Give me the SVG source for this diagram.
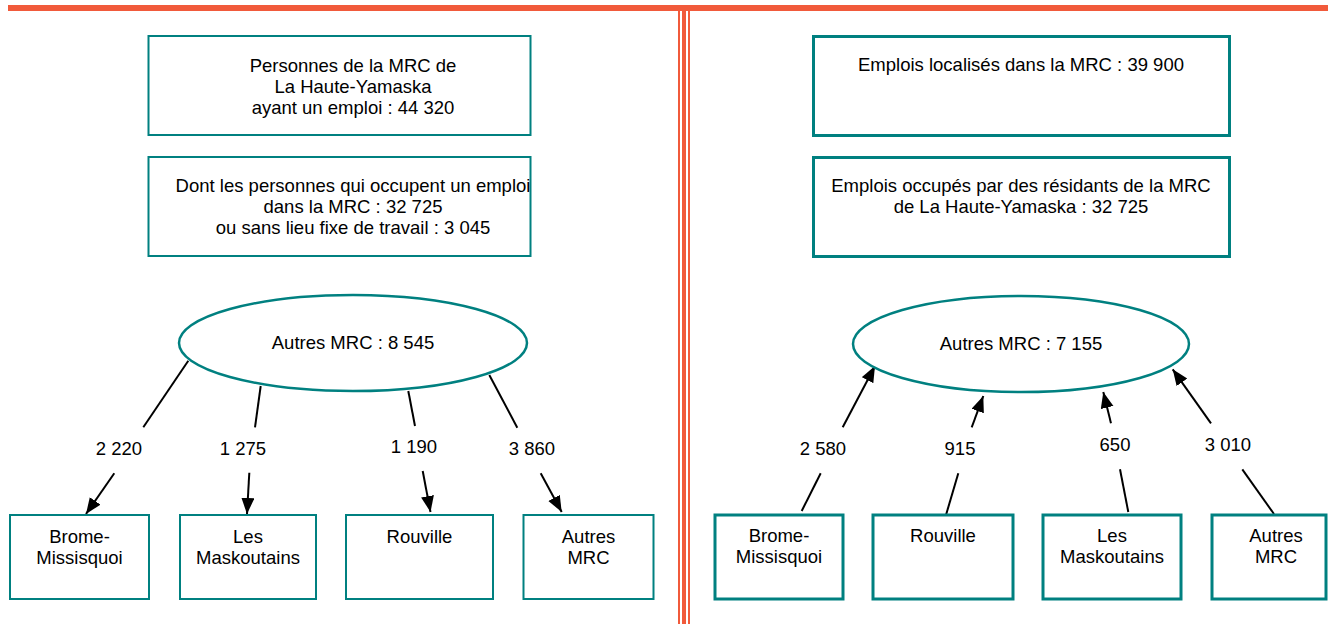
<svg xmlns="http://www.w3.org/2000/svg" width="1328" height="624" viewBox="0 0 1328 624">
<style>
text{font-family:"Liberation Sans",Arial,sans-serif;font-size:18.5px;fill:#000;text-anchor:middle}
.bx{fill:#fff;stroke:#008080;stroke-width:2}
.bx3{fill:#fff;stroke:#008080;stroke-width:3}
.el{fill:#fff;stroke:#008080;stroke-width:2.5}
.ln{stroke:#000;stroke-width:2;fill:none}
.ar{stroke:#000;stroke-width:2;fill:none;marker-end:url(#ah)}
.red{fill:#F15A3B}
</style>
<defs>
<marker id="ah" markerUnits="userSpaceOnUse" markerWidth="17" markerHeight="14" refX="16" refY="6.5" orient="auto">
<path d="M0,0 L16,6.5 L0,13 z" fill="#000"/>
</marker>
</defs>
<g id="frame">
<rect class="red" x="8" y="5" width="1320" height="6"/>
<rect class="red" x="678" y="9" width="2" height="615"/>
<rect class="red" x="682" y="9" width="4" height="615"/>
<rect class="red" x="688" y="9" width="2" height="615"/>
</g>
<g id="connectors">
<line class="ln" x1="188.3" y1="360.7" x2="143.3" y2="427.3"/>
<line class="ln" x1="260.7" y1="386" x2="255" y2="427.3"/>
<line class="ln" x1="408.3" y1="391" x2="415" y2="426"/>
<line class="ln" x1="489.3" y1="375" x2="517.3" y2="427.7"/>
<line class="ar" x1="114.3" y1="473.3" x2="86" y2="514"/>
<line class="ar" x1="249.3" y1="472.7" x2="247" y2="514"/>
<line class="ar" x1="422.7" y1="471" x2="430.5" y2="512"/>
<line class="ar" x1="540.7" y1="473.3" x2="561.7" y2="512"/>
<line class="ar" x1="842.7" y1="427.3" x2="875" y2="366"/>
<line class="ar" x1="971.7" y1="427.3" x2="983.3" y2="396"/>
<line class="ar" x1="1111" y1="423.3" x2="1103.3" y2="392"/>
<line class="ar" x1="1211" y1="423.3" x2="1172.7" y2="369.3"/>
<line class="ln" x1="820.7" y1="473.3" x2="801.7" y2="511"/>
<line class="ln" x1="958.3" y1="473.3" x2="946" y2="515"/>
<line class="ln" x1="1120" y1="469.3" x2="1128.3" y2="512"/>
<line class="ln" x1="1242.3" y1="469.3" x2="1274" y2="514"/>
<text x="119" y="455">2 220</text>
<text x="243" y="455">1 275</text>
<text x="414" y="453">1 190</text>
<text x="532" y="455">3 860</text>
<text x="823" y="455">2 580</text>
<text x="960" y="455">915</text>
<text x="1115" y="451">650</text>
<text x="1228" y="451">3 010</text>
</g>
<g id="l-personnes">
<rect class="bx" x="148.5" y="36" width="382" height="99"/>
<text x="353" y="72">Personnes de la MRC de</text>
<text x="353" y="93">La Haute-Yamaska</text>
<text x="353" y="114">ayant un emploi : 44 320</text>
</g>
<g id="l-dont">
<rect class="bx" x="148.5" y="157" width="382" height="99"/>
<text x="353" y="192">Dont les personnes qui occupent un emploi</text>
<text x="353" y="213">dans la MRC : 32 725</text>
<text x="353" y="234">ou sans lieu fixe de travail : 3 045</text>
</g>
<g id="l-autres-mrc">
<ellipse class="el" cx="353" cy="343" rx="174" ry="48"/>
<text x="353" y="349">Autres MRC : 8 545</text>
</g>
<g id="l-brome">
<rect class="bx" x="10" y="515" width="139" height="84"/>
<text x="79.5" y="543">Brome-</text>
<text x="79.5" y="564">Missisquoi</text>
</g>
<g id="l-maskoutains">
<rect class="bx" x="180" y="515" width="136" height="84"/>
<text x="248" y="543">Les</text>
<text x="248" y="564">Maskoutains</text>
</g>
<g id="l-rouville">
<rect class="bx" x="346" y="515" width="147" height="84"/>
<text x="419.5" y="543">Rouville</text>
</g>
<g id="l-autres">
<rect class="bx" x="523.5" y="515" width="130" height="84"/>
<text x="588.5" y="543">Autres</text>
<text x="588.5" y="564">MRC</text>
</g>
<g id="r-localises">
<rect class="bx3" x="813.5" y="36.5" width="416" height="99"/>
<text x="1021" y="71">Emplois localisés dans la MRC : 39 900</text>
</g>
<g id="r-occupes">
<rect class="bx3" x="813.5" y="157.5" width="416" height="99"/>
<text x="1021" y="192">Emplois occupés par des résidants de la MRC</text>
<text x="1021" y="213">de La Haute-Yamaska : 32 725</text>
</g>
<g id="r-autres-mrc">
<ellipse class="el" cx="1021" cy="344" rx="168" ry="48"/>
<text x="1021" y="350">Autres MRC : 7 155</text>
</g>
<g id="r-brome">
<rect class="bx3" x="715" y="515" width="128" height="84"/>
<text x="779" y="542">Brome-</text>
<text x="779" y="563">Missisquoi</text>
</g>
<g id="r-rouville">
<rect class="bx3" x="873" y="515" width="140" height="84"/>
<text x="943" y="542">Rouville</text>
</g>
<g id="r-maskoutains">
<rect class="bx3" x="1043" y="515" width="138" height="84"/>
<text x="1112" y="542">Les</text>
<text x="1112" y="563">Maskoutains</text>
</g>
<g id="r-autres">
<rect class="bx3" x="1212" y="515" width="114" height="84"/>
<text x="1276" y="542">Autres</text>
<text x="1276" y="563">MRC</text>
</g>
</svg>
